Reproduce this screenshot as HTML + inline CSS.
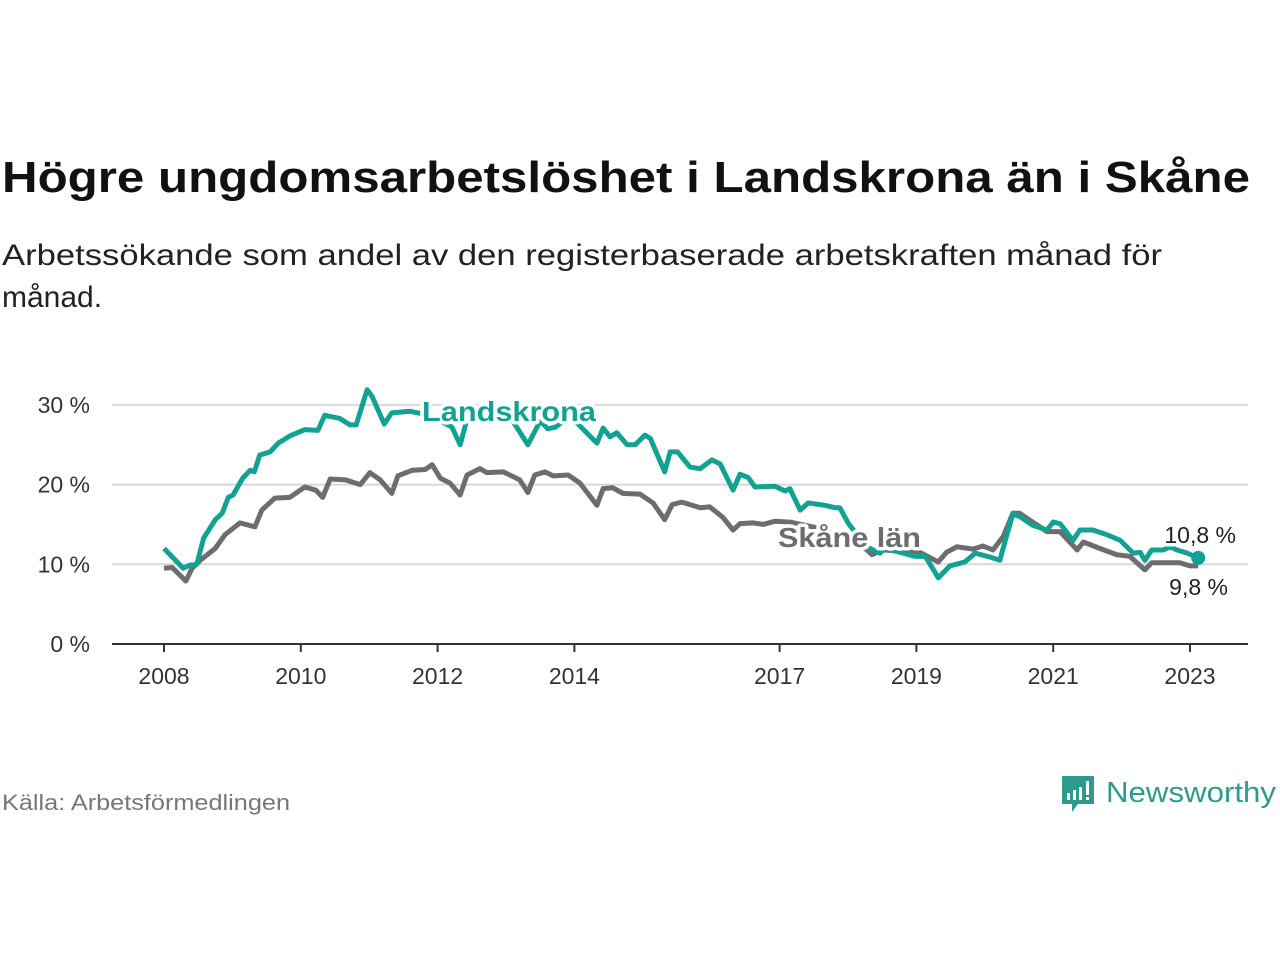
<!DOCTYPE html>
<html><head><meta charset="utf-8"><style>
body{margin:0;background:#fff;}
svg{display:block;font-family:"Liberation Sans",sans-serif;}
</style></head><body>
<svg id="chart" width="1280" height="960" viewBox="0 0 1280 960">
<text x="2" y="192" font-size="44" font-weight="bold" fill="#111" textLength="1248" lengthAdjust="spacingAndGlyphs">Högre ungdomsarbetslöshet i Landskrona än i Skåne</text>
<text x="2" y="265" font-size="30" fill="#222" textLength="1160" lengthAdjust="spacingAndGlyphs">Arbetssökande som andel av den registerbaserade arbetskraften månad för</text>
<text x="2" y="307" font-size="30" fill="#222">månad.</text>
<g id="grid"></g>
<g id="series"></g>
<text x="2" y="810" font-size="22" fill="#777" textLength="288" lengthAdjust="spacingAndGlyphs">Källa: Arbetsförmedlingen</text>
<g>
<path d="M1062 776h32v28h-16l-6 8v-8h-10z" fill="#2e9a8e"/>
<rect x="1067" y="793" width="3" height="7" fill="#fff"/><rect x="1073" y="790" width="3" height="10" fill="#fff"/><rect x="1079" y="787" width="3" height="13" fill="#fff"/><rect x="1086" y="781" width="3" height="14" fill="#fff"/><rect x="1086" y="797" width="3" height="3" fill="#fff"/>
<text x="1106" y="802" font-size="29" fill="#2e9a8e" textLength="170" lengthAdjust="spacingAndGlyphs">Newsworthy</text>
</g>
</svg>
<script>
const yTicks=[0,10,20,30];
const xTickYears=[2008,2010,2012,2014,2017,2019,2021,2023];
const landDates=[2008.00,2008.28,2008.38,2008.48,2008.58,2008.75,2008.85,2008.94,2009.01,2009.15,2009.26,2009.32,2009.40,2009.55,2009.67,2009.84,2010.06,2010.25,2010.35,2010.57,2010.72,2010.81,2010.97,2011.04,2011.22,2011.33,2011.60,2011.82,2012.04,2012.21,2012.33,2012.43,2012.77,2013.06,2013.32,2013.50,2013.61,2013.72,2013.94,2014.11,2014.33,2014.42,2014.52,2014.62,2014.77,2014.89,2015.03,2015.11,2015.32,2015.40,2015.51,2015.69,2015.84,2016.01,2016.13,2016.32,2016.42,2016.54,2016.64,2016.93,2017.08,2017.15,2017.30,2017.42,2017.66,2017.81,2017.88,2018.00,2018.15,2018.32,2018.47,2018.53,2018.76,2018.98,2019.13,2019.32,2019.49,2019.71,2019.86,2020.08,2020.22,2020.30,2020.41,2020.51,2020.70,2020.91,2021.00,2021.10,2021.29,2021.39,2021.58,2021.79,2021.98,2022.17,2022.27,2022.34,2022.44,2022.61,2022.71,2022.81,2022.96,2023.12];
const landValues=[12.0,9.5,9.9,10.0,13.3,15.6,16.4,18.4,18.7,20.8,21.8,21.6,23.7,24.1,25.2,26.1,26.9,26.8,28.7,28.3,27.5,27.5,31.9,31.1,27.6,29.0,29.2,28.8,28.0,27.2,25.0,28.2,28.8,28.5,25.0,28.0,27.0,27.2,28.6,27.1,25.2,27.1,26.0,26.5,25.0,25.0,26.2,25.8,21.6,24.1,24.1,22.2,22.0,23.1,22.6,19.3,21.3,20.9,19.7,19.8,19.2,19.5,16.8,17.7,17.4,17.1,17.1,15.2,13.5,12.0,11.4,12.0,11.5,11.0,11.0,8.3,9.8,10.3,11.4,10.9,10.5,13.0,16.3,16.0,14.9,14.3,15.3,15.1,13.0,14.3,14.3,13.7,13.0,11.4,11.5,10.5,11.8,11.8,12.2,11.8,11.4,10.8];
const skaneDates=[2008.00,2008.12,2008.32,2008.41,2008.53,2008.75,2008.89,2009.11,2009.33,2009.43,2009.62,2009.84,2010.06,2010.22,2010.32,2010.43,2010.65,2010.87,2011.01,2011.16,2011.33,2011.42,2011.63,2011.82,2011.92,2012.04,2012.18,2012.33,2012.43,2012.62,2012.72,2012.96,2013.20,2013.32,2013.42,2013.57,2013.69,2013.91,2014.08,2014.33,2014.42,2014.56,2014.71,2014.96,2015.15,2015.32,2015.43,2015.57,2015.84,2015.98,2016.17,2016.32,2016.42,2016.61,2016.76,2016.93,2017.15,2017.59,2018.03,2018.28,2018.35,2018.51,2019.05,2019.32,2019.44,2019.59,2019.83,2019.97,2020.12,2020.27,2020.41,2020.51,2020.70,2020.91,2021.10,2021.35,2021.44,2021.68,2021.93,2022.12,2022.34,2022.44,2022.85,2023.00,2023.12];
const skaneValues=[9.5,9.6,7.9,9.5,10.5,12.0,13.7,15.2,14.7,16.8,18.3,18.4,19.7,19.3,18.4,20.7,20.6,20.0,21.5,20.6,18.9,21.1,21.8,21.9,22.5,20.8,20.2,18.7,21.2,22.0,21.5,21.6,20.6,19.0,21.2,21.6,21.1,21.2,20.2,17.4,19.5,19.6,18.9,18.8,17.7,15.6,17.5,17.8,17.1,17.2,15.9,14.3,15.1,15.2,15.0,15.4,15.3,14.5,13.0,11.8,11.2,11.8,11.5,10.3,11.5,12.2,11.9,12.3,11.8,13.5,16.4,16.4,15.3,14.1,14.1,11.8,12.8,12.0,11.2,11.0,9.3,10.2,10.2,9.8,9.8];
const NS='http://www.w3.org/2000/svg';
const xs=y=>164+(y-2008)*68.4;
const ys=v=>644-v*7.97;
function mk(tag,attrs,parent){const e=document.createElementNS(NS,tag);for(const k in attrs)e.setAttribute(k,attrs[k]);parent.appendChild(e);return e;}
const grid=document.getElementById('grid');
yTicks.forEach(t=>{
  if(t>0){const l=mk('line',{x1:112,x2:1248,y1:ys(t),y2:ys(t),stroke:'#d8d8d8','stroke-width':2},grid);
  
  }
  const tx=mk('text',{x:90,y:ys(t)+8,'font-size':23,fill:'#333','text-anchor':'end'},grid);
  tx.textContent=t+' %';
  
  
});
const ax=mk('line',{x1:112,x2:1248,y1:644,y2:644,stroke:'#333','stroke-width':2},grid);


xTickYears.forEach(yr=>{
  const tk=mk('line',{x1:xs(yr),x2:xs(yr),y1:644,y2:652,stroke:'#333','stroke-width':2},grid);
  
  
  const tx=mk('text',{x:xs(yr),y:684,'font-size':23,fill:'#333','text-anchor':'middle'},grid);
  tx.textContent=yr;
  
  
});
const sg=document.getElementById('series');
function line(d,v,col,name){
  const p=mk('polyline',{points:d.map((x,i)=>xs(x)+','+ys(v[i])).join(' '),fill:'none',stroke:col,'stroke-width':5,'stroke-linejoin':'round'},sg);
  
  
}
line(skaneDates,skaneValues,'#6d6c70','skane-line');
line(landDates,landValues,'#12a193','landskrona-line');
const ld=landDates.length-1, sd=skaneDates.length-1;
const dot=mk('circle',{cx:xs(landDates[ld]),cy:ys(landValues[ld]),r:7,fill:'#12a193'},sg);


function lab(x,y,txt,col,size,bold,name,anchor,len){
  const a={x:x,y:y,'font-size':size,fill:col,'font-weight':bold?'bold':'normal',stroke:'#fff','stroke-width':7,'paint-order':'stroke','stroke-linejoin':'round','text-anchor':anchor||'start'};
  if(len){a.textLength=len;a.lengthAdjust='spacingAndGlyphs';}
  const t=mk('text',a,sg);
  t.textContent=txt;
  
  
}
lab(422,421,'Landskrona','#12a193',28,true,'landskrona-label','start',174);
lab(778,547,'Skåne län','#6d6c70',28,true,'skane-label','start',143);
lab(1236,543,landValues[ld].toFixed(1).replace('.',',')+' %','#222',23,false,'landskrona-end-value','end');
lab(1228,595,skaneValues[sd].toFixed(1).replace('.',',')+' %','#222',23,false,'skane-end-value','end');
</script>
</body></html>
